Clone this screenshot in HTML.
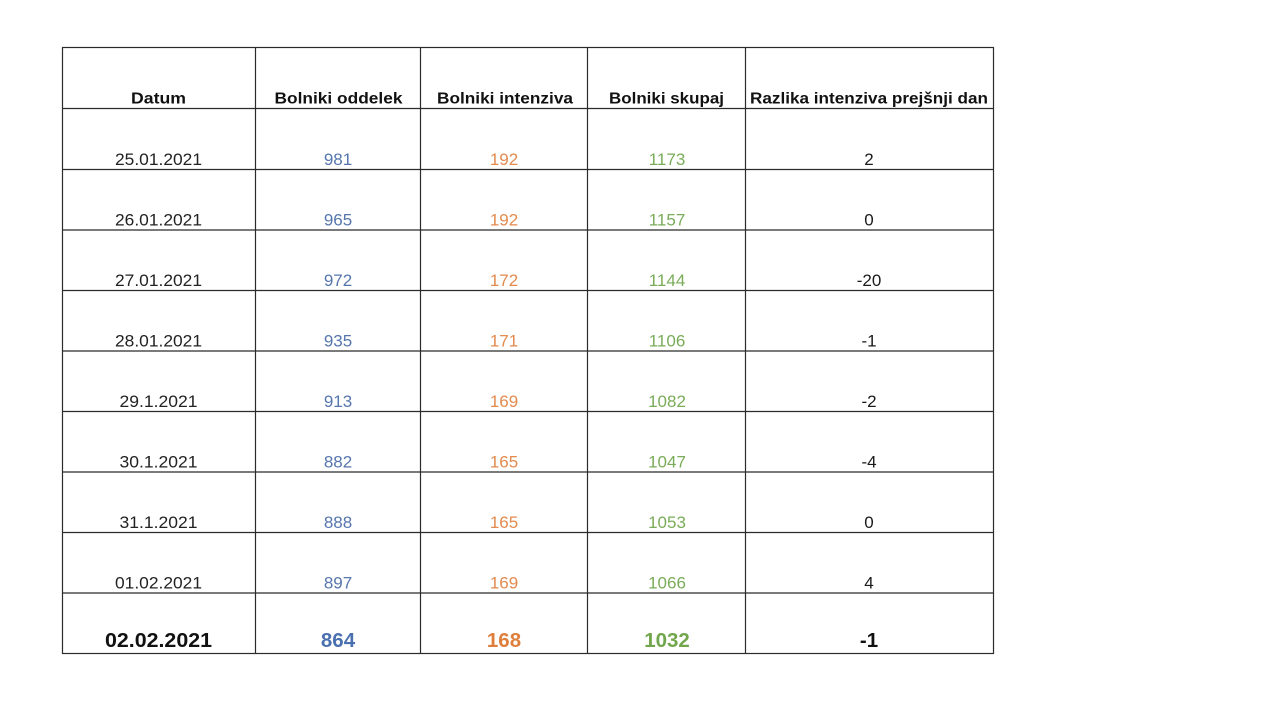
<!DOCTYPE html>
<html>
<head>
<meta charset="utf-8">
<style>
html,body{margin:0;padding:0;background:#fff;}
svg{display:block;}
text{font-family:"Liberation Sans",Arial,sans-serif;}
.h{font-weight:bold;font-size:15.5px;fill:#111;}
.d{font-size:17px;fill:#222;}
.b{fill:#5676ad;}
.o{fill:#e38a4e;}
.g{fill:#79ac58;}
.k{fill:#1a1a1a;}
.L{font-weight:bold;font-size:20.5px;}
</style>
</head>
<body>
<svg width="1280" height="720" viewBox="0 0 1280 720" xmlns="http://www.w3.org/2000/svg">
<rect width="1280" height="720" fill="#fff"/>
<g stroke="#2b2b2b" stroke-width="1.2" fill="none">
<rect x="62.5" y="47.5" width="931" height="606"/>
<line x1="255.5" y1="47" x2="255.5" y2="654"/>
<line x1="420.5" y1="47" x2="420.5" y2="654"/>
<line x1="587.5" y1="47" x2="587.5" y2="654"/>
<line x1="745.5" y1="47" x2="745.5" y2="654"/>
<line x1="62" y1="108.5" x2="994" y2="108.5"/>
<line x1="62" y1="169.5" x2="994" y2="169.5"/>
<line x1="62" y1="230" x2="994" y2="230"/>
<line x1="62" y1="290.5" x2="994" y2="290.5"/>
<line x1="62" y1="351" x2="994" y2="351"/>
<line x1="62" y1="411.5" x2="994" y2="411.5"/>
<line x1="62" y1="472" x2="994" y2="472"/>
<line x1="62" y1="532.5" x2="994" y2="532.5"/>
<line x1="62" y1="593" x2="994" y2="593"/>
</g>
<g text-anchor="middle">
<text class="h" x="158.5" y="103.5" textLength="55" lengthAdjust="spacingAndGlyphs">Datum</text>
<text class="h" x="338.5" y="103.5" textLength="128" lengthAdjust="spacingAndGlyphs">Bolniki oddelek</text>
<text class="h" x="505" y="103.5" textLength="136" lengthAdjust="spacingAndGlyphs">Bolniki intenziva</text>
<text class="h" x="666.5" y="103.5" textLength="115" lengthAdjust="spacingAndGlyphs">Bolniki skupaj</text>
<text class="h" x="869" y="103.5" textLength="238" lengthAdjust="spacingAndGlyphs">Razlika intenziva prejšnji dan</text>
</g>
<g text-anchor="middle" class="d">
<text x="158.5" y="165" textLength="87" lengthAdjust="spacingAndGlyphs">25.01.2021</text>
<text x="338" y="165" class="b">981</text>
<text x="504" y="165" class="o">192</text>
<text x="667" y="165" class="g">1173</text>
<text x="869" y="165" class="k">2</text>

<text x="158.5" y="225.5" textLength="87" lengthAdjust="spacingAndGlyphs">26.01.2021</text>
<text x="338" y="225.5" class="b">965</text>
<text x="504" y="225.5" class="o">192</text>
<text x="667" y="225.5" class="g">1157</text>
<text x="869" y="225.5" class="k">0</text>

<text x="158.5" y="286" textLength="87" lengthAdjust="spacingAndGlyphs">27.01.2021</text>
<text x="338" y="286" class="b">972</text>
<text x="504" y="286" class="o">172</text>
<text x="667" y="286" class="g">1144</text>
<text x="869" y="286" class="k">-20</text>

<text x="158.5" y="346.5" textLength="87" lengthAdjust="spacingAndGlyphs">28.01.2021</text>
<text x="338" y="346.5" class="b">935</text>
<text x="504" y="346.5" class="o">171</text>
<text x="667" y="346.5" class="g">1106</text>
<text x="869" y="346.5" class="k">-1</text>

<text x="158.5" y="407" textLength="78" lengthAdjust="spacingAndGlyphs">29.1.2021</text>
<text x="338" y="407" class="b">913</text>
<text x="504" y="407" class="o">169</text>
<text x="667" y="407" class="g">1082</text>
<text x="869" y="407" class="k">-2</text>

<text x="158.5" y="467.5" textLength="78" lengthAdjust="spacingAndGlyphs">30.1.2021</text>
<text x="338" y="467.5" class="b">882</text>
<text x="504" y="467.5" class="o">165</text>
<text x="667" y="467.5" class="g">1047</text>
<text x="869" y="467.5" class="k">-4</text>

<text x="158.5" y="528" textLength="78" lengthAdjust="spacingAndGlyphs">31.1.2021</text>
<text x="338" y="528" class="b">888</text>
<text x="504" y="528" class="o">165</text>
<text x="667" y="528" class="g">1053</text>
<text x="869" y="528" class="k">0</text>

<text x="158.5" y="588.5" textLength="87" lengthAdjust="spacingAndGlyphs">01.02.2021</text>
<text x="338" y="588.5" class="b">897</text>
<text x="504" y="588.5" class="o">169</text>
<text x="667" y="588.5" class="g">1066</text>
<text x="869" y="588.5" class="k">4</text>
</g>
<g text-anchor="middle" class="L">
<text x="158.5" y="647" fill="#111" textLength="107" lengthAdjust="spacingAndGlyphs">02.02.2021</text>
<text x="338" y="647" fill="#4a70b0">864</text>
<text x="504" y="647" fill="#e07f3c">168</text>
<text x="667" y="647" fill="#72a64c">1032</text>
<text x="869" y="647" fill="#111">-1</text>
</g>
</svg>
</body>
</html>
